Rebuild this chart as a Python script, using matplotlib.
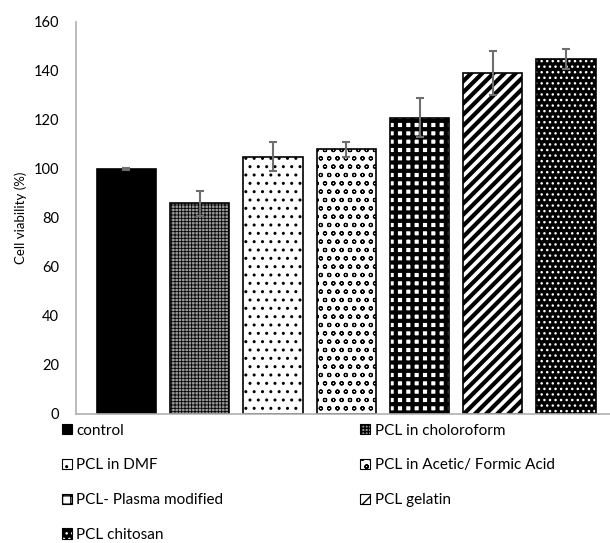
import matplotlib
matplotlib.use("Agg")
import matplotlib.pyplot as plt
from matplotlib.patches import Patch
from matplotlib.legend_handler import HandlerTuple
import numpy as np

labels = ["control", "PCL in choloroform", "PCL in DMF", "PCL in Acetic/ Formic Acid",
          "PCL- Plasma modified", "PCL gelatin", "PCL chitosan"]
values = [100, 86, 105, 108, 121, 139, 145]
errors = [0.5, 5, 6, 3, 8, 9, 4]

faces = ["black", "#9a9a9a", "white", "white", "white", "white", "black"]
hatch_cols = ["black", "black", "black", "black", "black", "black", "white"]
hatches = [None, "+++++", "..", "oo", "++", "///", "..."]
hatch_lw = [1.0, 0.6, 1.0, 0.8, 3.0, 3.0, 1.0]

plt.rcParams["font.family"] = ["Lato", "DejaVu Sans"]

fig = plt.figure(figsize=(6.10, 5.43), dpi=100)
ax = fig.add_axes([0.124, 0.2376, 0.876, 0.7219])

x = np.arange(len(values))
handles = []
for i in range(len(values)):
    plt.rcParams["hatch.linewidth"] = hatch_lw[i]
    plt.rcParams["hatch.color"] = hatch_cols[i]
    ax.bar(x[i], values[i], width=0.81, color=faces[i], hatch=hatches[i],
           edgecolor=hatch_cols[i], linewidth=0)
    ax.bar(x[i], values[i], width=0.81, fill=False, edgecolor="black", linewidth=1.2)
    p1 = Patch(facecolor=faces[i], hatch=hatches[i], edgecolor=hatch_cols[i], linewidth=0)
    p2 = Patch(fill=False, edgecolor="black", linewidth=0.8)
    handles.append((p1, p2))

ax.errorbar(x, values, yerr=errors, fmt="none", ecolor="#6e6e6e", elinewidth=1.5,
            capsize=3.2, capthick=1.5)

ax.set_xlim(-0.694, 6.6)
ax.set_ylim(0, 160)
ax.set_yticks(np.arange(0, 161, 20))
ax.set_xticks([])
ax.tick_params(axis="y", length=0, labelsize=10.5, pad=12)
for s in ["top", "right"]:
    ax.spines[s].set_visible(False)
for s in ["left", "bottom"]:
    ax.spines[s].set_color("#b0b0b0")
    ax.spines[s].set_linewidth(1.2)
ax.set_ylabel("Cell viability (%)", fontsize=9.5, labelpad=5)

order = [0, 2, 4, 6, 1, 3, 5]
fig.legend([handles[i] for i in order], [labels[i] for i in order], ncol=2,
           handler_map={tuple: HandlerTuple(ndivide=1)},
           loc="upper left", bbox_to_anchor=(0.1016, 0.22), frameon=False,
           fontsize=11, handlelength=0.65, handleheight=0.65, handletextpad=0.3,
           labelspacing=1.36, columnspacing=8.95, borderpad=0, borderaxespad=0)

fig.savefig("out.png", dpi=100)
